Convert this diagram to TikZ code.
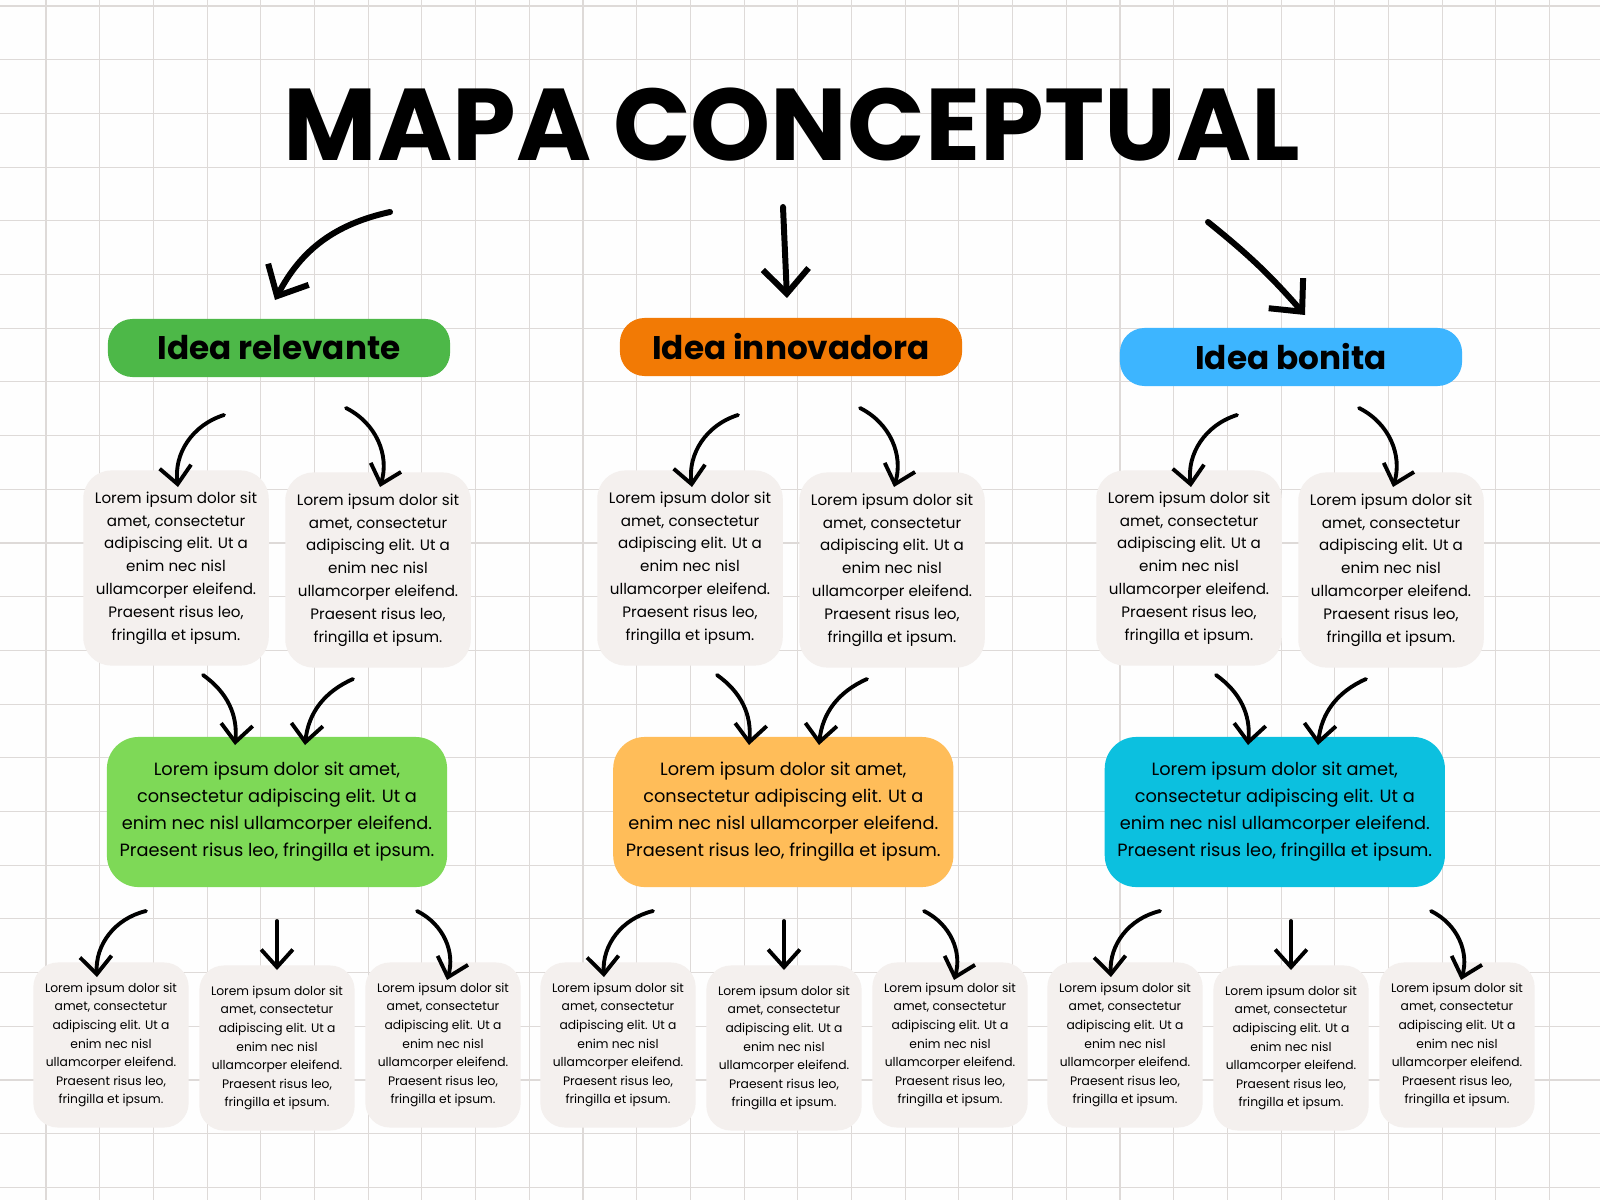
\documentclass[tikz,border=0pt]{standalone}
\usepackage{fontspec}
\setmainfont{Poppins}
\usetikzlibrary{arrows.meta}
\definecolor{gridc}{HTML}{DEDAD8}
\definecolor{boxc}{HTML}{F4F0EE}
\definecolor{gA}{HTML}{4DB848}\definecolor{oA}{HTML}{F27A05}\definecolor{bA}{HTML}{3DB5FF}
\definecolor{gB}{HTML}{7ED957}\definecolor{oB}{HTML}{FFBD59}\definecolor{bB}{HTML}{0CC0DF}
\begin{document}
\begin{tikzpicture}[x=0.01cm,y=-0.01cm,
 arr/.style={line width=1.1pt,line cap=round,-{Straight Barb[length=5pt,width=9pt,line width=1.1pt]}},
 big/.style={line width=1.7pt,line cap=round,-{Straight Barb[length=7pt,width=13pt,line width=1.7pt]}},
 head/.style={rounded corners=7pt,minimum width=3.42cm,minimum height=0.58cm,font=\fontsize{9.3}{12}\selectfont\bfseries},
 mid/.style={fill=boxc,rounded corners=8pt,minimum width=1.78cm,minimum height=1.95cm,align=center,font=\fontsize{4.3}{6.5}\selectfont},
 bigb/.style={rounded corners=9pt,minimum width=3.4cm,minimum height=1.5cm,align=center,font=\fontsize{5.05}{7.7}\selectfont},
 low/.style={fill=boxc,rounded corners=7pt,minimum width=1.45cm,minimum height=1.65cm,align=center,font=\fontsize{3.5}{5.3}\selectfont}]
\fill[white!98!gridc] (0,0) rectangle (1600,1200);
\useasboundingbox (0,0) rectangle (1600,1200);
\foreach \i in {0,...,30}{\draw[gridc,line width=0.3pt] (46+53.7*\i-53.7,0)--(46+53.7*\i-53.7,1200);}
\foreach \i in {0,...,23}{\draw[gridc,line width=0.3pt] (0,6+53.7*\i)--(1600,6+53.7*\i);}
\node (title) at (792,125) {\fontsize{29}{34}\selectfont\bfseries MAPA CONCEPTUAL};
\def\ltext{Lorem ipsum dolor sit\\amet, consectetur\\adipiscing elit. Ut a\\enim nec nisl\\ullamcorper eleifend.\\Praesent risus leo,\\fringilla et ipsum.}
\def\btext{Lorem ipsum dolor sit amet,\\consectetur adipiscing elit. Ut a\\enim nec nisl ullamcorper eleifend.\\Praesent risus leo, fringilla et ipsum.}
\node[head,fill=gA] (h1) at (279,348) {Idea relevante};
\node[head,fill=oA] (h2) at (791,347) {Idea innovadora};
\node[head,fill=bA] (h3) at (1291,357) {Idea bonita};
\coordinate (t1) at (390,212); \coordinate (e1) at (275,300);
\coordinate (t2) at (783,207); \coordinate (e2) at (787,298);
\coordinate (t3) at (1208,222); \coordinate (e3) at (1305,315);
\draw[big] (t1) to[bend right=25] (e1);
\draw[big] (t2) -- (e2);
\draw[big] (t3) to[bend left=5] (e3);
\foreach \n/\ox/\col in {1/0/gB,2/514/oB,3/1013/bB}{
 \node[mid] (m\n a) at (176+\ox,568) {\ltext};
 \node[mid] (m\n b) at (378+\ox,570) {\ltext};
 \node[bigb,fill=\col] (b\n) at (277+\ox*0.985,812) {\btext};
 \coordinate (s\n a) at (224+\ox,415); \coordinate (f\n a) at (178+\ox,487);
 \coordinate (s\n b) at (346+\ox,408); \coordinate (f\n b) at (380+\ox,487);
 \draw[arr] (s\n a) to[bend right=40] (f\n a);
 \draw[arr] (s\n b) to[bend left=40] (f\n b);
 \coordinate (u\n a) at (203+\ox,675); \coordinate (v\n a) at (235+\ox,745);
 \coordinate (u\n b) at (353+\ox,679); \coordinate (v\n b) at (305+\ox,745);
 \draw[arr] (u\n a) to[bend left=30] (v\n a);
 \draw[arr] (u\n b) to[bend right=30] (v\n b);
}
\foreach \n/\ox in {1/0,2/507,3/1014}{
 \node[low] (l\n a) at (111+\ox,1045) {\ltext};
 \node[low] (l\n b) at (277+\ox,1048) {\ltext};
 \node[low] (l\n c) at (443+\ox,1045) {\ltext};
 \coordinate (p\n a) at (146+\ox,911); \coordinate (q\n a) at (97+\ox,977);
 \coordinate (p\n b) at (277+\ox,921); \coordinate (q\n b) at (277+\ox,970);
 \coordinate (p\n c) at (417+\ox,911); \coordinate (q\n c) at (447+\ox,980);
 \draw[arr] (p\n a) to[bend right=40] (q\n a);
 \draw[arr] (p\n b) -- (q\n b);
 \draw[arr] (p\n c) to[bend left=40] (q\n c);
}
\end{tikzpicture}
\end{document}
